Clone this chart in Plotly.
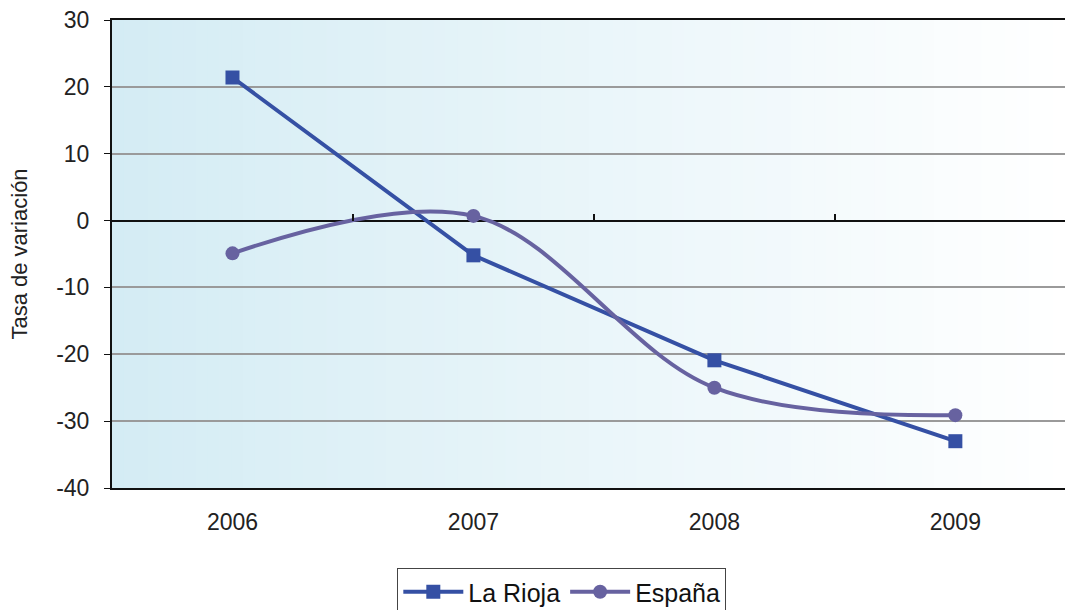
import plotly.graph_objects as go

years = ["2006", "2007", "2008", "2009"]
la_rioja = [21.4, -5.2, -20.9, -33.0]
espana = [-4.9, 0.7, -25.0, -29.1]
y_ticks = [30, 20, 10, 0, -10, -20, -30, -40]
y_tick_text = ["30", "20", "10", "0", "-10", "-20", "-30", "-40"]

fig = go.Figure()

fig.add_trace(go.Scatter(
    x=years, y=la_rioja, name="La Rioja", mode="lines+markers",
    line=dict(color="#3550A4", width=4),
    marker=dict(symbol="square", size=14, color="#3550A4"),
))
fig.add_trace(go.Scatter(
    x=years, y=espana, name="España", mode="lines+markers",
    line=dict(color="#6762A0", width=4, shape="spline", smoothing=1),
    marker=dict(symbol="circle", size=14, color="#6762A0"),
))

# gradient background strips
n = 80
c0 = (212, 236, 244)
c1 = (255, 255, 255)
shapes = []
for i in range(n):
    t = i / (n - 1)
    col = tuple(round(c0[k] + (c1[k] - c0[k]) * t) for k in range(3))
    shapes.append(dict(
        type="rect", xref="x domain", yref="y domain",
        x0=i / n, x1=(i + 1) / n + 0.002, y0=0, y1=1,
        fillcolor="rgb(%d,%d,%d)" % col, line=dict(width=0), layer="below",
    ))

fig.update_layout(
    width=1065, height=610,
    margin=dict(l=112, r=0, t=20, b=122, autoexpand=False),
    paper_bgcolor="white", plot_bgcolor="white",
    font=dict(family="Liberation Sans, Arial, sans-serif", color="#222222"),
    shapes=shapes,
    showlegend=True,
    legend=dict(
        orientation="h", x=0.472, xanchor="center", y=-0.171, yanchor="top",
        font=dict(size=25, color="#111111"),
        bordercolor="#444444", borderwidth=1, bgcolor="white",
        itemwidth=60, tracegroupgap=0,
    ),
    xaxis=dict(
        type="category", range=[-0.5, 3.455],
        showgrid=False, showline=True, linecolor="#111111", linewidth=2,
        mirror=True, ticks="", tickfont=dict(size=23), ticklabelstandoff=12,
        automargin=False,
    ),
    xaxis2=dict(
        overlaying="x", matches="x", anchor="free", position=4 / 7, side="top",
        tickmode="array", tickvals=[0.5, 1.5, 2.5], ticks="outside", ticklen=7,
        tickwidth=1.5, tickcolor="#111111", showticklabels=False,
        showgrid=False, showline=False, zeroline=False,
    ),
    yaxis=dict(
        range=[-40, 30], tickmode="array", tickvals=y_ticks, ticktext=y_tick_text,
        showgrid=True, gridcolor="#9a9a9a", gridwidth=2,
        zeroline=True, zerolinecolor="#111111", zerolinewidth=2,
        showline=True, linecolor="#111111", linewidth=2,
        ticks="outside", ticklen=6, tickcolor="#111111",
        tickfont=dict(size=23), ticklabelstandoff=10,
        title=dict(text="Tasa de variación", font=dict(size=22), standoff=22),
        automargin=False,
    ),
)

# invisible trace to activate xaxis2
fig.add_trace(go.Scatter(x=years, y=[None] * 4, xaxis="x2", showlegend=False, hoverinfo="skip"))

fig.write_html(
    "out.html",
    config={"displayModeBar": False},
    post_script="document.body.style.margin='0';document.body.style.overflow='hidden';",
)
